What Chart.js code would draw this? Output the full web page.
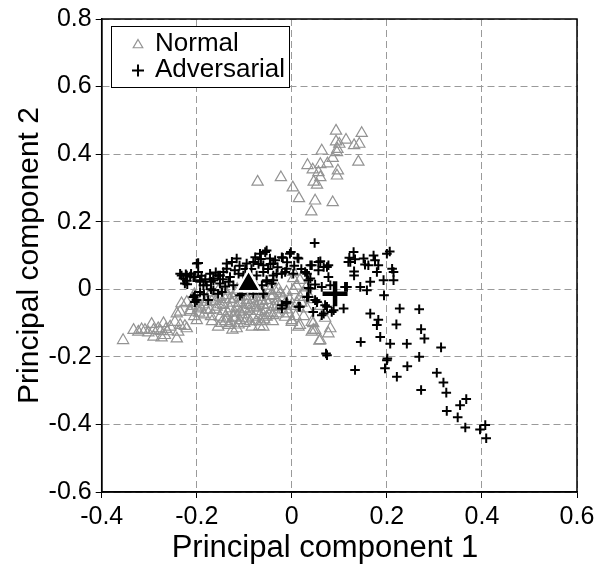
<!DOCTYPE html>
<html>
<head>
<meta charset="utf-8">
<script src="https://cdn.jsdelivr.net/npm/chart.js@4/dist/chart.umd.min.js"></script>
<style>
  html, body { margin: 0; padding: 0; background: #fff; }
  #wrap { width: 607px; height: 567px; position: relative; }
</style>
</head>
<body>
<div id="wrap"><canvas id="c" width="607" height="567"></canvas></div>
<script>
// ---- data ----
const xTickValues = [-0.4, -0.2, 0, 0.2, 0.4, 0.6];
const xTickLabels = ["-0.4", "-0.2", "0", "0.2", "0.4", "0.6"];
const yTickValues = [-0.6, -0.4, -0.2, 0, 0.2, 0.4, 0.6, 0.8];
const yTickLabels = ["-0.6", "-0.4", "-0.2", "0", "0.2", "0.4", "0.6", "0.8"];
const xTitle = "Principal component 1";
const yTitle = "Principal component 2";
const seriesNames = ["Normal", "Adversarial"];

const normalUpper = [
  [0.093,0.469],[0.147,0.462],[0.093,0.437],[0.114,0.442],[0.100,0.430],[0.131,0.426],[0.142,0.430],
  [0.096,0.415],[0.063,0.410],[0.095,0.405],[0.086,0.388],[0.140,0.377],[0.075,0.372],[0.033,0.367],
  [0.060,0.370],[0.044,0.354],[0.097,0.351],[0.056,0.346],[0.095,0.336],[0.060,0.331],[0.046,0.318],
  [0.053,0.309],[-0.072,0.318],[-0.023,0.331],[0.002,0.301],[0.015,0.269],[0.049,0.262],[0.086,0.257],
  [0.041,0.230]
];
const normalTail = [
  [-0.355,-0.151],[-0.333,-0.121],[-0.323,-0.126],[-0.316,-0.119],[-0.309,-0.121],[-0.295,-0.103],
  [-0.291,-0.121],[-0.281,-0.116],[-0.270,-0.101],[-0.256,-0.111],[-0.291,-0.141],[-0.274,-0.143],
  [-0.246,-0.097],[-0.235,-0.106],[-0.239,-0.126],[-0.221,-0.116],[-0.225,-0.109],[-0.242,-0.072],
  [-0.235,-0.067],[-0.232,-0.042],[-0.221,-0.038],[-0.214,-0.062],[-0.207,-0.042],[-0.197,-0.057],
  [-0.242,-0.146],[-0.267,-0.136],[-0.265,-0.118],[-0.262,-0.125],[-0.276,-0.124],[-0.302,-0.128]
];
const normalCore = [
  [-0.214,-0.067],[-0.193,-0.052],[-0.179,-0.038],[-0.165,-0.028],[-0.151,-0.023],[-0.137,-0.018],
  [-0.123,-0.028],[-0.109,-0.023],[-0.095,-0.032],[-0.081,-0.028],[-0.067,-0.023],[-0.053,-0.032],
  [-0.039,-0.018],[-0.025,-0.013],[-0.011,-0.008],[0.003,-0.003],[-0.046,-0.003],[0.003,0.051],
  [0.017,0.027],[-0.172,-0.062],[-0.158,-0.052],[-0.144,-0.047],[-0.130,-0.057],[-0.116,-0.052],
  [-0.102,-0.057],[-0.088,-0.047],[-0.074,-0.052],[-0.060,-0.047],[-0.039,-0.052],[-0.151,-0.082],
  [-0.137,-0.087],[-0.123,-0.082],[-0.109,-0.092],[-0.095,-0.087],[-0.081,-0.082],[-0.067,-0.077],
  [-0.053,-0.082],[-0.032,-0.072],[-0.155,-0.111],[-0.133,-0.106],[-0.116,-0.116],[-0.084,-0.111],
  [-0.060,-0.111],[-0.109,-0.067],[-0.014,-0.082],[0.000,-0.092],[0.014,-0.111],[0.042,-0.097],
  [0.045,-0.121],[0.060,-0.151],[0.077,-0.131],[0.032,-0.057],[0.011,-0.042],[0.017,-0.023],
  [-0.200,-0.092],[-0.185,-0.075],[0.000,-0.097],[0.045,-0.101],[0.049,-0.121],[0.042,-0.126],
  [0.058,-0.153],[-0.007,-0.072],[-0.032,-0.052],[0.003,0.032],[-0.039,-0.077],[-0.060,-0.077],
  [0.017,-0.106],[0.081,-0.116],
  [-0.170,-0.010],[-0.140,-0.005],[-0.125,-0.040],[-0.100,-0.010],[-0.085,-0.005],[-0.070,-0.040],
  [-0.055,-0.060],[-0.045,-0.020],[-0.030,-0.035],[-0.020,-0.060],[-0.110,-0.040],[-0.145,-0.065],
  [-0.160,-0.035],[-0.120,-0.070],[-0.090,-0.065],[-0.075,-0.095],[-0.100,-0.100],[-0.140,-0.095],
  [-0.125,-0.120],[-0.065,-0.095],[-0.190,-0.030],[-0.180,-0.060],[-0.205,-0.080],[-0.130,-0.030],
  [-0.095,-0.045],[-0.062,-0.010],[-0.028,0.000],[0.010,0.010],[0.030,0.005],[0.040,-0.030],
  [0.060,-0.050],[0.070,-0.085],[0.025,-0.080],[-0.005,-0.030],[-0.015,-0.045],[-0.050,0.010],
  [-0.115,0.000],[-0.075,0.005],
  [-0.205,-0.015],[-0.195,-0.070],[-0.185,-0.045],[-0.170,-0.080],[-0.160,-0.060],[-0.150,-0.045],
  [-0.140,-0.030],[-0.135,-0.070],[-0.128,-0.100],[-0.118,-0.085],[-0.112,-0.105],[-0.105,-0.075],
  [-0.098,-0.060],[-0.092,-0.020],[-0.088,-0.095],[-0.080,-0.055],[-0.072,-0.065],[-0.068,-0.110],
  [-0.058,-0.090],[-0.050,-0.045],[-0.045,-0.070],[-0.040,-0.095],[-0.035,-0.005],[-0.025,-0.050],
  [-0.018,-0.025],[-0.010,-0.060],[-0.002,-0.050],[0.008,-0.080],[0.020,-0.040],[0.025,-0.010],
  [-0.080,0.010],[-0.105,0.005],[-0.130,0.000],[-0.155,-0.005],[-0.175,-0.020],[-0.118,-0.012],
  [-0.062,-0.035],[-0.148,-0.100],[-0.168,-0.095],[-0.210,-0.050]
];
const adversarialPoints = [
  [-0.232,0.041],[-0.223,0.044],[-0.214,0.038],[-0.204,0.036],[-0.221,0.025],[-0.220,0.015],
  [-0.197,0.078],[-0.197,0.051],[-0.204,-0.018],[-0.200,-0.032],
  [0.048,0.137],[-0.200,0.076],[-0.235,0.046],[-0.116,0.091],[-0.137,0.076],[-0.095,0.076],
  [-0.077,0.095],[-0.067,0.105],[-0.056,0.110],[-0.046,0.091],[-0.039,0.076],[-0.021,0.095],
  [-0.004,0.105],[0.014,0.091],[0.039,0.071],[0.056,0.081],[0.067,0.066],[0.077,0.071],
  [0.119,0.081],[-0.172,0.046],[-0.165,0.027],[-0.155,0.041],[-0.144,0.051],[-0.151,0.017],
  [-0.130,0.036],[-0.112,0.046],[-0.193,0.027],[-0.186,0.012],[-0.207,-0.023],[-0.204,-0.038],
  [-0.176,-0.032],[-0.193,-0.008],[-0.155,-0.013],[-0.105,-0.013],[-0.060,-0.013],[-0.053,0.022],
  [-0.039,0.027],[-0.032,0.046],[-0.014,0.051],[0.003,0.046],[0.028,0.051],[0.035,0.027],
  [0.039,0.002],[0.035,-0.023],[0.053,-0.038],[-0.011,-0.038],[-0.021,-0.057],[0.017,-0.052],
  [0.045,-0.067],[0.067,-0.072],[0.088,-0.062],[0.109,-0.057],[0.074,-0.052],[0.074,-0.195],
  [0.165,-0.072],[0.182,-0.090],[0.179,-0.106],[0.186,-0.141],[0.145,-0.156],[0.072,-0.190],
  [0.133,-0.239],[0.196,-0.234],[0.200,-0.210],[0.070,-0.047],[-0.011,-0.042],
  [0.130,0.110],[0.121,0.093],[0.133,0.089],[0.123,0.081],[0.151,0.091],[0.154,0.073],
  [0.172,0.100],[0.175,0.086],[0.161,0.071],[0.182,0.071],[0.200,0.105],[0.206,0.112],
  [0.131,0.053],[0.131,0.041],[0.179,0.051],[0.211,0.061],[0.214,0.051],[0.193,0.027],
  [0.214,0.027],[0.165,0.022],[0.144,0.007],[0.158,-0.003],[0.116,0.007],[0.194,-0.018],
  [0.227,-0.057],[0.268,-0.059],[0.220,-0.104],[0.272,-0.118],
  [0.207,-0.161],[0.242,-0.161],[0.279,-0.146],[0.314,-0.172],[0.201,-0.205],[0.268,-0.200],
  [0.243,-0.228],[0.221,-0.259],[0.305,-0.247],[0.319,-0.276],[0.272,-0.298],[0.325,-0.306],
  [0.367,-0.325],[0.354,-0.343],[0.326,-0.360],[0.349,-0.379],[0.365,-0.409],[0.396,-0.415],
  [0.407,-0.402],[0.409,-0.441],
  [-0.002,0.110],[0.012,0.093],[-0.019,0.093],[-0.053,0.115],[-0.035,0.086],[-0.060,0.071],
  [-0.011,0.061],[-0.021,0.046],[-0.039,0.041],[-0.053,0.027],[-0.063,0.012],[-0.042,0.017],
  [0.042,0.071],[0.060,0.083],[0.074,0.066],[0.056,0.056],[0.032,0.046],[0.039,0.032],
  [0.049,0.014],[0.063,0.007],[0.035,0.004],[0.032,-0.023],[0.049,-0.032],[0.077,0.036],
  [0.081,0.012],[0.112,0.007],[-0.021,-0.047],[0.014,-0.052],[0.063,-0.077],[0.084,-0.067],
  [-0.060,-0.013],
  [-0.221,0.041],[-0.207,0.036],[-0.225,0.017],[-0.193,0.022],[-0.179,0.012],[-0.165,0.032],
  [-0.151,0.041],[-0.137,0.061],[-0.126,0.081],[-0.133,0.022],[-0.147,-0.008],[-0.123,0.012],
  [-0.165,-0.003],[-0.081,0.081],[-0.074,0.041],[-0.102,0.041],[-0.109,-0.018],[-0.081,-0.013],
  [-0.060,0.051],[-0.085,0.060],[-0.070,0.075],[-0.050,0.060],
  [-0.228,0.032],[-0.212,0.046],[-0.190,0.040],[-0.182,0.030],[-0.170,0.022],[-0.160,0.050],
  [-0.145,0.030],[-0.120,0.056],[-0.110,0.070],[-0.098,0.060],[-0.090,0.030],[-0.065,0.090],
  [-0.045,0.075],[-0.030,0.065],[-0.010,0.080],[0.005,0.070],[0.020,0.060],[-0.185,-0.015],
  [-0.170,0.000],[-0.140,0.008]
];
const normalMean = [-0.091, 0.015];
const adversarialMean = [0.091, -0.013];

// ---- chart ----
const toXY = arr => arr.map(p => ({x: p[0], y: p[1]}));
const normalPoints = normalUpper.concat(normalTail, normalCore);
const FONT = "'Liberation Sans', Arial, Helvetica, sans-serif";
const GRAY = '#939393';

const framePlugin = {
  id: 'frameLegend',
  afterDraw(chart) {
    const {ctx, chartArea: a} = chart;
    ctx.save();
    ctx.setLineDash([]);
    ctx.strokeStyle = '#000';
    ctx.lineWidth = 1.5;
    ctx.strokeRect(a.left, a.top, a.right - a.left, a.bottom - a.top);
    // x axis title
    ctx.fillStyle = '#000';
    ctx.font = '31px ' + FONT;
    ctx.textAlign = 'center';
    ctx.textBaseline = 'alphabetic';
    ctx.fillText(xTitle, 325, 557);
    // legend box
    const bx = 111, by = 26, bw = 178, bh = 61;
    ctx.fillStyle = '#fff';
    ctx.fillRect(bx, by, bw, bh);
    ctx.lineWidth = 1;
    ctx.strokeRect(bx + 0.5, by + 0.5, bw, bh);
    // triangle symbol
    const tr = 5.5, tx = 138, ty = 45;
    ctx.strokeStyle = GRAY;
    ctx.lineWidth = 1.2;
    ctx.beginPath();
    ctx.moveTo(tx, ty - tr);
    ctx.lineTo(tx + 0.866 * tr, ty + tr / 2);
    ctx.lineTo(tx - 0.866 * tr, ty + tr / 2);
    ctx.closePath();
    ctx.stroke();
    // cross symbol
    const cx = 138, cy = 70.5, cr = 6;
    ctx.strokeStyle = '#000';
    ctx.lineWidth = 2;
    ctx.beginPath();
    ctx.moveTo(cx - cr, cy); ctx.lineTo(cx + cr, cy);
    ctx.moveTo(cx, cy - cr); ctx.lineTo(cx, cy + cr);
    ctx.stroke();
    ctx.fillStyle = '#000';
    ctx.font = '26px ' + FONT;
    ctx.textAlign = 'left';
    ctx.textBaseline = 'alphabetic';
    ctx.fillText(seriesNames[0], 155, 51);
    ctx.fillText(seriesNames[1], 155, 77);
    ctx.restore();
  }
};

new Chart(document.getElementById('c'), {
  type: 'scatter',
  data: {
    datasets: [
      {
        label: seriesNames[0],
        data: toXY(normalPoints),
        pointStyle: 'triangle',
        pointRadius: 6.5,
        borderColor: GRAY,
        backgroundColor: 'rgba(0,0,0,0)',
        borderWidth: 1.2,
        order: 4
      },
      {
        label: seriesNames[1],
        data: toXY(adversarialPoints),
        pointStyle: 'cross',
        pointRadius: 4.8,
        borderColor: '#000',
        backgroundColor: '#000',
        borderWidth: 2,
        order: 3
      },
      {
        label: 'Normal mean',
        data: toXY([normalMean]),
        pointStyle: 'triangle',
        pointRadius: 14,
        borderColor: '#fff',
        backgroundColor: '#000',
        borderWidth: 2.5,
        order: 2
      },
      {
        label: 'Adversarial mean',
        data: toXY([adversarialMean]),
        pointStyle: 'cross',
        pointRadius: 12.5,
        borderColor: '#000',
        borderWidth: 4.5,
        order: 1
      }
    ]
  },
  options: {
    responsive: false,
    animation: false,
    events: [],
    layout: { padding: { top: 17.5, right: 30, left: 0, bottom: 0 } },
    plugins: { legend: { display: false }, tooltip: { enabled: false } },
    scales: {
      x: {
        type: 'linear',
        min: -0.4, max: 0.6,
        afterFit(s) { s.height = 75; },
        afterBuildTicks(s) { s.ticks = xTickValues.map(v => ({value: v})); },
        ticks: {
          callback: (v, i) => xTickLabels[i],
          color: '#000',
          font: { family: FONT, size: 25 },
          padding: 4,
          maxRotation: 0
        },
        grid: { color: '#9a9a9a', lineWidth: 1, tickColor: '#000', tickLength: 6, tickWidth: 1 },
        border: { display: true, color: '#000', width: 1.5, dash: [7, 4] },
        title: { display: false, text: xTitle }
      },
      y: {
        type: 'linear',
        min: -0.6, max: 0.8,
        afterFit(s) { s.width = 101.7; },
        afterBuildTicks(s) { s.ticks = yTickValues.map(v => ({value: v})); },
        ticks: {
          callback: (v, i) => yTickLabels[i],
          color: '#000',
          font: { family: FONT, size: 25 },
          padding: 4
        },
        grid: { color: '#9a9a9a', lineWidth: 1, tickColor: '#000', tickLength: 6, tickWidth: 1 },
        border: { display: true, color: '#000', width: 1.5, dash: [7, 4] },
        title: { display: true, text: yTitle, color: '#000', font: { family: FONT, size: 30, lineHeight: 1.2 }, padding: { top: 12, bottom: 0 } }
      }
    }
  },
  plugins: [framePlugin]
});
</script>
</body>
</html>
